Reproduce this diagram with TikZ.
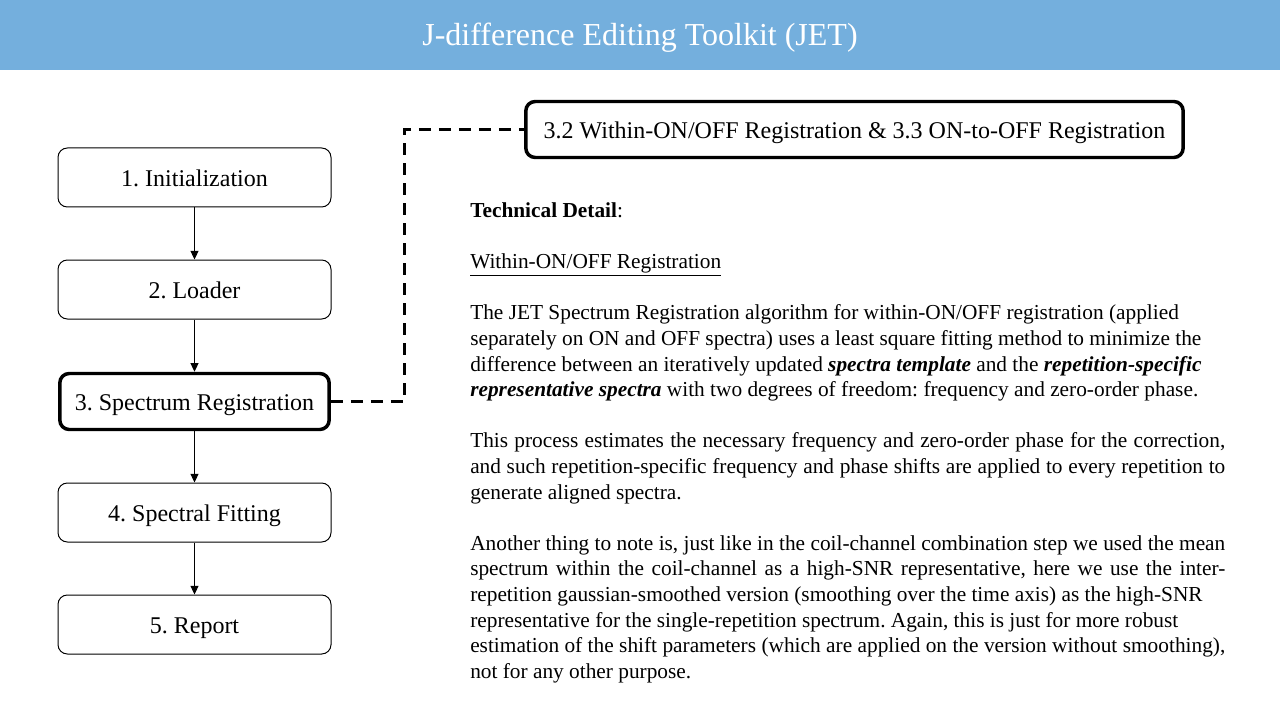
\documentclass[tikz,border=0pt]{standalone}
\usepackage{fontspec}
\setmainfont{Liberation Serif}
\usetikzlibrary{arrows.meta}
\definecolor{bannerblue}{RGB}{116,175,221}
\frenchspacing
\tikzset{
 stage/.style={draw,rounded corners=7pt,line width=0.75pt,minimum width=204.75pt,minimum height=44.25pt,inner sep=0pt,text height=14pt,text depth=0.5pt,font=\fontsize{18}{21.6}\selectfont},
 current/.style={stage,line width=2.6pt,minimum width=202pt,minimum height=42pt},
 flow/.style={-{Triangle[length=6.5pt,width=6pt]},line width=0.75pt},
 link/.style={line width=2.25pt,dash pattern=on 9pt off 6pt},
 detail/.style={text width=566.25pt,align=justify,inner sep=0pt,font=\fontsize{16}{19.2}\selectfont}
}
\begin{document}
\begin{tikzpicture}[x=0.75pt,y=-0.75pt]
 \useasboundingbox (0,0) rectangle (1280,720);
 \fill[bannerblue] (0,0) rectangle (1280,70);
 \node[text=white,font=\fontsize{24}{28.8}\selectfont] (title) at (640,38) {J-difference Editing Toolkit (JET)};
 % pipeline
 \node[stage] (init) at (194.5,177.5) {1. Initialization};
 \node[stage] (load) at (194.5,289.5) {2. Loader};
 \node[current] (reg) at (194.5,401.5) {3. Spectrum Registration};
 \node[stage] (fit) at (194.5,512.5) {4. Spectral Fitting};
 \node[stage] (report) at (194.5,624.5) {5. Report};
 \draw[flow] (init) -- (load);
 \draw[flow] (load) -- (reg);
 \draw[flow] (reg) -- (fit);
 \draw[flow] (fit) -- (report);
 % sub step
 \node[current,minimum width=493pt] (sub) at (854.5,129.5) {3.2 Within-ON/OFF Registration \& 3.3 ON-to-OFF Registration};
 \coordinate (bend) at (404,401.5);
 \draw[link] (reg.east) -- (bend) |- (sub.west);
 % text
 \node[detail,anchor=north west] (text) at (470,202.5) {%
 \textbf{Technical Detail}:\par\vspace{19.2pt}
 \underline{Within-ON/OFF Registration}\par\vspace{19.2pt}
 The JET Spectrum Registration algorithm for within-ON/OFF registration (applied\\
 separately on ON and OFF spectra) uses a least square fitting method to minimize the\\
 difference between an iteratively updated \textbf{\textit{spectra template}} and the \textbf{\textit{repetition-specific}}\\
 \textbf{\textit{representative spectra}} with two degrees of freedom: frequency and zero-order phase.\par\vspace{19.2pt}
 This process estimates the necessary frequency and zero-order phase for the correction,\linebreak
 and such repetition-specific frequency and phase shifts are applied to every repetition to\linebreak
 generate aligned spectra.\par\vspace{19.2pt}
 Another thing to note is, just like in the coil-channel combination step we used the mean\linebreak
 spectrum within the coil-channel as a high-SNR representative, here we use the inter-\linebreak
 repetition gaussian-smoothed version (smoothing over the time axis) as the high-SNR\\
 representative for the single-repetition spectrum. Again, this is just for more robust\\
 estimation of the shift parameters (which are applied on the version without smoothing),\linebreak
 not for any other purpose.};
\end{tikzpicture}
\end{document}
